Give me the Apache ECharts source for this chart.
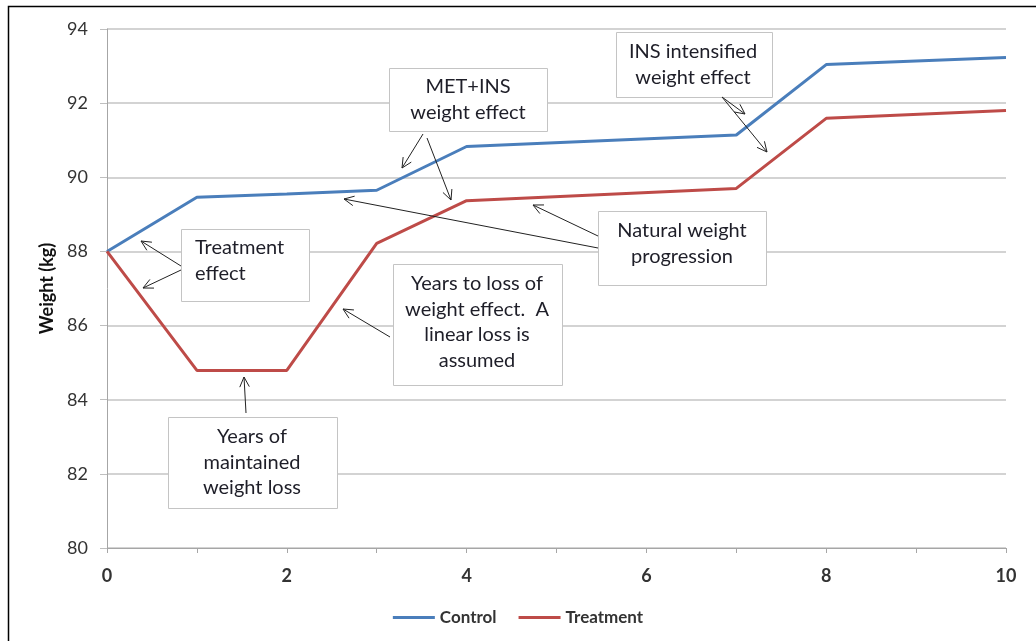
<!DOCTYPE html>
<html>
<head>
<meta charset="utf-8">
<script src="https://cdn.jsdelivr.net/npm/echarts@6/dist/echarts.min.js"></script>
<style>html,body{margin:0;padding:0;background:#fff;}#c{width:1036px;height:641px;}</style>
</head>
<body>
<div id="c"></div>
<script>
const years = [0, 1, 2, 3, 4, 7, 8, 10];
const control = [88.0, 89.46, 89.55, 89.65, 90.83, 91.14, 93.04, 93.23];
const treatment = [88.0, 84.79, 84.79, 88.22, 89.37, 89.70, 91.59, 91.80];
const seriesNames = ['Control', 'Treatment'];
const yTitle = 'Weight (kg)';

const FONT = 'Lato';
const chart = echarts.init(document.getElementById('c'));

// annotation boxes (layout)
const boxes = [
  {x:181, y:229, w:128, h:72, lines:['Treatment','effect'], tx:195, ty:248, align:'left'},
  {x:389, y:68, w:158, h:63, lines:['MET+INS','weight effect'], tx:468, ty:87, align:'center'},
  {x:616, y:32, w:156, h:65, lines:['INS intensified','weight effect'], tx:693, ty:52, align:'center'},
  {x:598, y:211, w:168, h:74, lines:['Natural weight','progression'], tx:682, ty:231, align:'center'},
  {x:393, y:264, w:169, h:121, lines:['Years to loss of','weight effect.  A','linear loss is','assumed'], tx:477, ty:284, align:'center'},
  {x:168, y:417, w:169, h:91, lines:['Years of','maintained','weight loss'], tx:252, ty:437, align:'center'}
];
const arrows = [
  [181,266,141,241], [181,270,143,288],
  [423,134,402,168], [427,138,451,200],
  [722,97,745,114], [722,97,767,152],
  [598,248,344,199], [598,236,533,205],
  [390,337,343,309],
  [246,413,244,377]
];

const graphic = [];
graphic.push({type:'rect', shape:{x:8.5, y:6.5, width:1100, height:700}, style:{fill:'none', stroke:'#000', lineWidth:1.5}, z:100, silent:true});
boxes.forEach(b => {
  graphic.push({type:'rect', shape:{x:b.x+0.5, y:b.y+0.5, width:b.w, height:b.h}, style:{fill:'#fff', stroke:'#c4c4c4', lineWidth:1}, z:50});
  b.lines.forEach((t,i) => {
    graphic.push({type:'text', x:b.tx, y:b.ty + i*25.5, style:{text:t, fill:'#1e1e28', font:'20px ' + FONT, textAlign:b.align, textVerticalAlign:'middle'}, z:51});
  });
});
arrows.forEach(a => {
  const [x1,y1,x2,y2] = a;
  const ang = Math.atan2(y2-y1, x2-x1);
  const L = 11, spread = 0.45;
  const h1 = [x2 - L*Math.cos(ang-spread), y2 - L*Math.sin(ang-spread)];
  const h2 = [x2 - L*Math.cos(ang+spread), y2 - L*Math.sin(ang+spread)];
  graphic.push({type:'line', shape:{x1, y1, x2, y2}, style:{stroke:'#222', lineWidth:1}, z:60});
  graphic.push({type:'polyline', shape:{points:[h1,[x2,y2],h2]}, style:{stroke:'#222', lineWidth:1, fill:'none'}, z:60});
});

chart.setOption({
  animation:false,
  backgroundColor:'#fff',
  grid:{left:107, right:30, top:29, bottom:93},
  legend:{
    data:[{name:seriesNames[0], icon:'rect'}, {name:seriesNames[1], icon:'rect'}],
    bottom:10, left:'center', itemWidth:42, itemHeight:3, itemGap:22,
    textStyle:{fontFamily:FONT, fontWeight:'bold', fontSize:17, color:'#333'}
  },
  xAxis:{
    type:'value', min:0, max:10, interval:1,
    axisLine:{lineStyle:{color:'#a6a6a6', width:1}},
    axisTick:{show:true, length:5, lineStyle:{color:'#a6a6a6'}},
    splitLine:{show:false},
    axisLabel:{margin:19, fontFamily:FONT, fontSize:18, fontWeight:'bold', color:'#333',
      formatter: v => (v % 2 === 0 ? String(v) : '')}
  },
  yAxis:{
    type:'value', min:80, max:94, interval:2,
    name:yTitle, nameLocation:'middle', nameGap:51, nameRotate:90,
    nameTextStyle:{fontFamily:FONT, fontWeight:'bold', fontSize:18, color:'#111'},
    axisLine:{show:true, lineStyle:{color:'#a6a6a6', width:1}},
    axisTick:{show:true, length:7, lineStyle:{color:'#bfbfbf'}},
    splitLine:{show:true, lineStyle:{color:'#c4c4c4', width:1.5}},
    axisLabel:{margin:19, fontFamily:FONT, fontSize:18, color:'#333'}
  },
  series:[
    {name:seriesNames[0], type:'line', data:years.map((x,i)=>[x, control[i]]), symbol:'none',
      lineStyle:{color:'#4a7ebb', width:3}, itemStyle:{color:'#4a7ebb'}, z:10},
    {name:seriesNames[1], type:'line', data:years.map((x,i)=>[x, treatment[i]]), symbol:'none',
      lineStyle:{color:'#be4b48', width:3}, itemStyle:{color:'#be4b48'}, z:10}
  ],
  graphic:graphic
});
</script>
</body>
</html>
